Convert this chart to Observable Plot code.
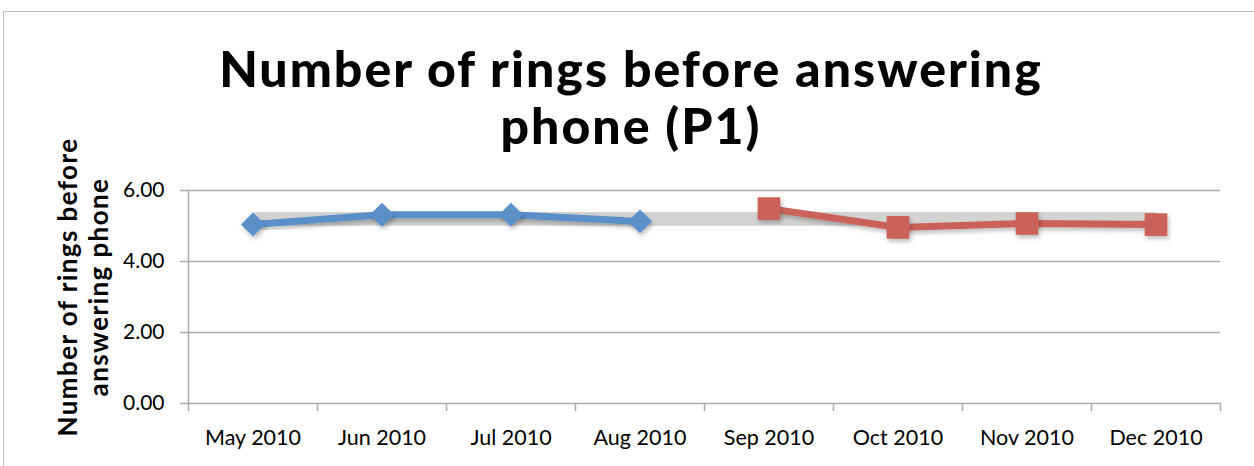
<!DOCTYPE html>
<html>
<head>
<meta charset="utf-8">
<script src="https://cdn.jsdelivr.net/npm/d3@7"></script>
<script src="https://cdn.jsdelivr.net/npm/@observablehq/plot@0.6"></script>
<style>
  html, body { margin: 0; padding: 0; background: #fff; }
  body { width: 1254px; height: 466px; position: relative; overflow: hidden; font-family: Lato, "Open Sans", sans-serif; }
  #frame { position: absolute; left: 3px; top: 11px; width: 1400px; height: 600px; border: 1px solid #bdbdbd; box-sizing: border-box; }
  #title { position: absolute; left: 0; width: 1262px; top: 40px; text-align: center; font-family: Lato, sans-serif; font-weight: 900; font-size: 50px; line-height: 57px; letter-spacing: 2px; color: #000; }
  #chart { position: absolute; left: 0; top: 110px; }
  .ylab text { letter-spacing: 1.4px; }
</style>
</head>
<body>
<div id="frame"></div>
<div id="title">Number of rings before answering<br>phone (P1)</div>
<div id="chart"></div>
<script>
const months = ["May 2010", "Jun 2010", "Jul 2010", "Aug 2010", "Sep 2010", "Oct 2010", "Nov 2010", "Dec 2010"];
const seriesA = [5.04, 5.32, 5.32, 5.13];           // May–Aug (blue)
const seriesB = [5.49, 4.96, 5.07, 5.04];           // Sep–Dec (red)
const bandLow = [4.99, 4.99, 4.99, 4.99, 4.99, 4.99, 4.99, 4.99];
const bandHigh = [5.38, 5.38, 5.38, 5.38, 5.38, 5.38, 5.38, 5.38];
const yTicks = [0, 2, 4, 6];
const yLabel = "Number of rings before\nanswering phone";

const blue = months.slice(0, 4).map((m, i) => ({i, v: seriesA[i]}));
const red = months.slice(4).map((m, k) => ({i: k + 4, v: seriesB[k]}));
const band = months.map((m, i) => ({i, lo: bandLow[i], hi: bandHigh[i]}));
const bounds = d3.range(-0.5, months.length, 1);

const plot = Plot.plot({
  width: 1254,
  height: 356,
  marginLeft: 188,
  marginRight: 34,
  marginTop: 80,
  marginBottom: 63,
  style: {fontFamily: "Lato, sans-serif", fontSize: "21px", color: "#000", background: "transparent"},
  x: {type: "linear", domain: [-0.5, months.length - 0.5], axis: null},
  y: {domain: [0, 6], axis: null},
  marks: [
    Plot.ruleY(yTicks, {stroke: "#ababab", strokeWidth: 1.5}),
    Plot.ruleX([-0.5], {stroke: "#ababab", strokeWidth: 1.5}),
    Plot.axisY({ticks: yTicks, tickFormat: d3.format(".2f"), tickSize: 8, tickPadding: 16, stroke: "#ababab", strokeWidth: 1.5, fontSize: 21, label: null}),
    Plot.axisX({ticks: bounds, tickFormat: () => "", tickSize: 8, stroke: "#ababab", strokeWidth: 1.5, label: null}),
    Plot.axisX({ticks: d3.range(months.length), tickFormat: i => months[i], tickSize: 0, tickPadding: 26, fontSize: 21.5, label: null}),
    Plot.areaY(band, {x: "i", y1: "lo", y2: "hi", fill: "#d3d3d3"}),
    Plot.line(blue, {x: "i", y: "v", stroke: "#5a8fc8", strokeWidth: 7, className: "shadowed"}),
    Plot.dot(blue, {x: "i", y: "v", symbol: "diamond2", r: 10.8, fill: "#5a8fc8", stroke: "none", className: "shadowed"}),
    Plot.line(red, {x: "i", y: "v", stroke: "#cb625a", strokeWidth: 7, className: "shadowed"}),
    Plot.dot(red, {x: "i", y: "v", symbol: "square", r: 12.8, fill: "#cb625a", stroke: "none", className: "shadowed"}),
    Plot.text([yLabel], {frameAnchor: "left", rotate: -90, dx: -106, dy: -10, fontWeight: "bold", fontSize: 26, lineHeight: 1.2, textAnchor: "middle", lineAnchor: "middle", fill: "#000", className: "ylab"})
  ]
});

// soft drop shadow like the original spreadsheet chart
const svg = d3.select(plot.tagName.toLowerCase() === "svg" ? plot : plot.querySelector("svg"));
const defs = svg.insert("defs", ":first-child");
const f = defs.append("filter").attr("id", "shadow").attr("x", "-20%").attr("y", "-50%").attr("width", "140%").attr("height", "200%");
f.append("feDropShadow").attr("dx", 1.5).attr("dy", 3).attr("stdDeviation", 2).attr("flood-color", "#000").attr("flood-opacity", 0.25);
svg.selectAll(".shadowed").attr("filter", "url(#shadow)");

document.getElementById("chart").appendChild(plot);
</script>
</body>
</html>
